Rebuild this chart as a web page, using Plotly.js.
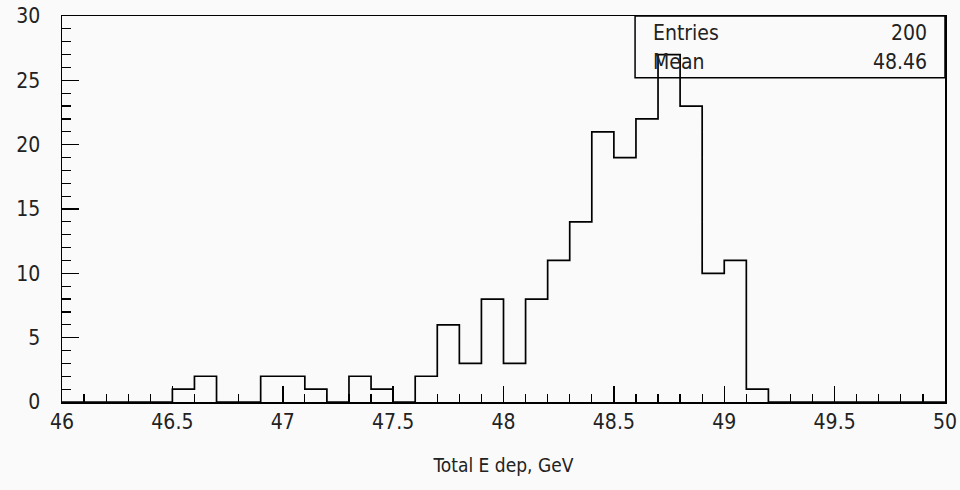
<!DOCTYPE html>
<html>
<head>
<meta charset="utf-8">
<script src="https://cdn.plot.ly/plotly-3.0.1.min.js"></script>
<style>html,body{margin:0;padding:0;background:#fafafa;}</style>
</head>
<body>
<div id="chart" style="width:960px;height:490px;"></div>
<script>
// Histogram: 40 bins of 0.1 GeV from 46 to 50
const binStart = 46.0;
const binWidth = 0.1;
const counts = [
  0, 0, 0, 0, 0, 1, 2, 0, 0, 2,
  2, 1, 0, 2, 1, 0, 2, 6, 3, 8,
  3, 8, 11, 14, 21, 19, 22, 27, 23, 10,
  11, 1, 0, 0, 0, 0, 0, 0, 0, 0
];
const xTickVals = [46, 46.5, 47, 47.5, 48, 48.5, 49, 49.5, 50];
const xTickText = ["46", "46.5", "47", "47.5", "48", "48.5", "49", "49.5", "50"];
const yTickVals = [0, 5, 10, 15, 20, 25, 30];
const xTitle = "Total E dep, GeV";
const statLabels = ["Entries", "Mean"];
const statValues = ["200", "48.46"];

// build step outline from bin edges
const xs = [], ys = [];
for (let i = 0; i < counts.length; i++) {
  xs.push(+(binStart + i * binWidth).toFixed(2));
  ys.push(counts[i]);
}
xs.push(+(binStart + counts.length * binWidth).toFixed(2));
ys.push(counts[counts.length - 1]);

const FONT = "'DejaVu Sans Condensed', 'DejaVu Sans', sans-serif";

const trace = {
  type: 'scatter', mode: 'lines', x: xs, y: ys,
  line: {shape: 'hv', color: '#000', width: 1.7},
  hoverinfo: 'skip'
};

const annotations = [];
const statY = [0.956, 0.881];
for (let i = 0; i < statLabels.length; i++) {
  annotations.push({xref: 'paper', yref: 'paper', x: 0.667, y: statY[i], xanchor: 'left', yanchor: 'middle',
    text: statLabels[i], showarrow: false, font: {family: FONT, size: 21, color: '#222'}});
  annotations.push({xref: 'paper', yref: 'paper', x: 0.982, y: statY[i], xanchor: 'right', yanchor: 'middle',
    text: statValues[i], showarrow: false, font: {family: FONT, size: 21, color: '#222'}});
}

const layout = {
  width: 960, height: 490,
  paper_bgcolor: '#fafafa', plot_bgcolor: '#fafafa',
  margin: {l: 62, r: 15, t: 16, b: 88},
  showlegend: false,
  font: {family: FONT, size: 21, color: '#222'},
  xaxis: {
    range: [46, 50], tickmode: 'array', tickvals: xTickVals, ticktext: xTickText,
    ticks: 'inside', ticklen: 16, tickwidth: 1.5, tickcolor: '#000',
    minor: {dtick: 0.1, tick0: 46, ticks: 'inside', ticklen: 8, tickwidth: 1.2, tickcolor: '#000'},
    showline: true, linecolor: '#000', linewidth: 1.5, mirror: true,
    showgrid: false, zeroline: false, fixedrange: true,
    tickfont: {family: FONT, size: 21, color: '#222'},
    title: {text: xTitle, font: {family: FONT, size: 19, color: '#222'}, standoff: 26}
  },
  yaxis: {
    range: [0, 30], tickmode: 'array', tickvals: yTickVals,
    ticks: 'inside', ticklen: 17, tickwidth: 1.5, tickcolor: '#000',
    minor: {dtick: 1, tick0: 0, ticks: 'inside', ticklen: 9, tickwidth: 1.2, tickcolor: '#000'},
    showline: true, linecolor: '#000', linewidth: 1.5, mirror: true,
    showgrid: false, zeroline: false, fixedrange: true,
    tickfont: {family: FONT, size: 21, color: '#222'},
    ticklabelstandoff: 16
  },
  shapes: [{type: 'rect', xref: 'paper', yref: 'paper', x0: 0.649, x1: 1, y0: 0.840, y1: 1,
    line: {color: '#000', width: 1.5}, fillcolor: 'rgba(0,0,0,0)'}],
  annotations: annotations
};

Plotly.newPlot('chart', [trace], layout, {displayModeBar: false, staticPlot: true});
</script>
</body>
</html>
